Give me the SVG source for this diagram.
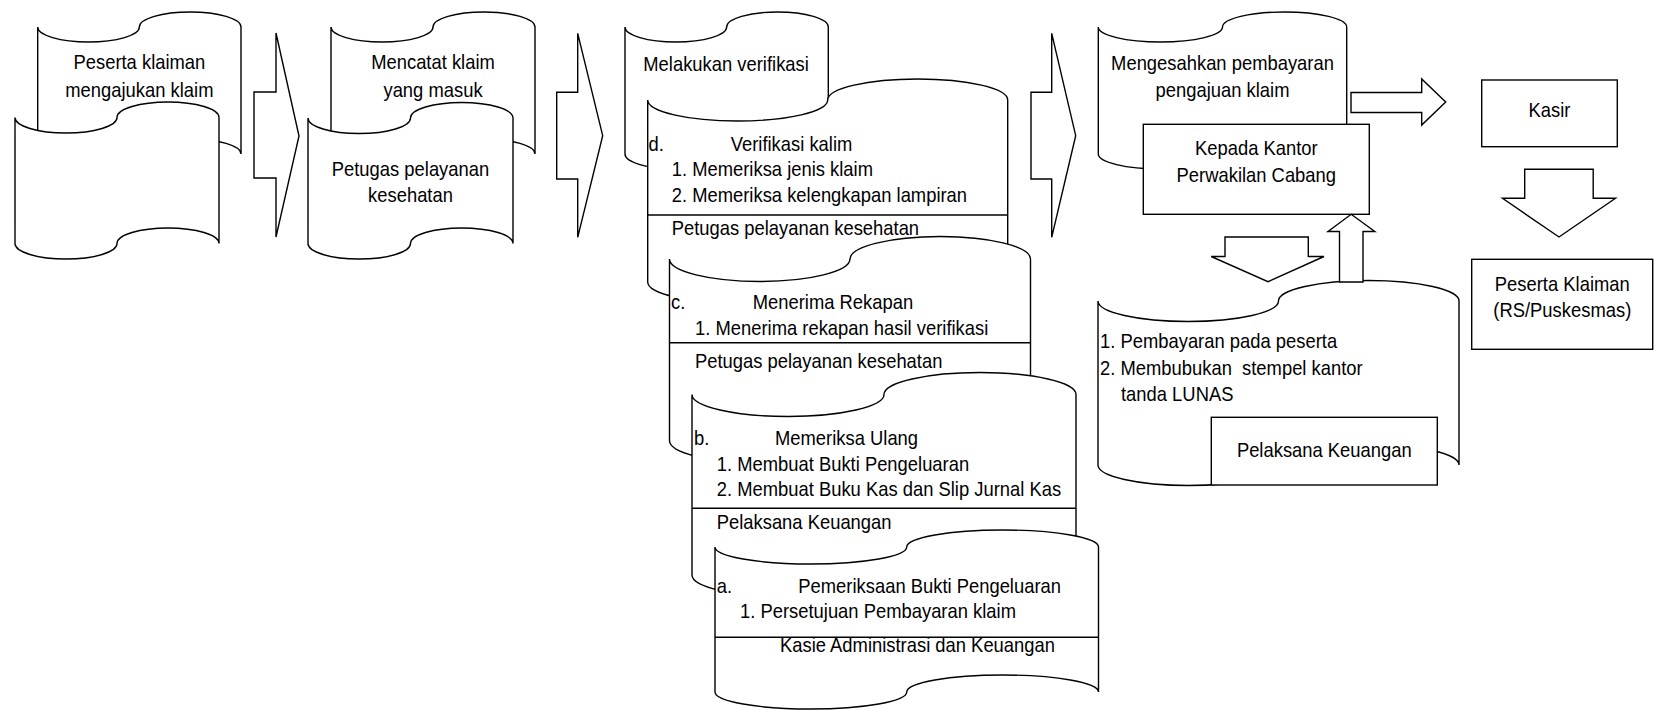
<svg xmlns="http://www.w3.org/2000/svg" width="1654" height="710" viewBox="0 0 1654 710">
<style>
.s{fill:#fff;stroke:#000;stroke-width:1.4;stroke-linejoin:miter}
.l{stroke:#000;stroke-width:1.4;fill:none}
.t{font-family:"Liberation Sans",Arial,Helvetica,sans-serif;font-size:20px;fill:#000}
.m{text-anchor:middle}
</style>
<rect width="1654" height="710" fill="#fff"/>
<g id="n-peserta-ajukan">
<path class="s" d="M37.7,27 A50.8,15 0 0 0 139.35,27 A50.8,15 0 0 1 241,27 L241,154 A50.8,15 0 0 0 139.35,154 A50.8,15 0 0 1 37.7,154 Z"/>
<text class="t m" transform="translate(139.4 69.3) scale(0.92 1)">Peserta klaiman</text>
<text class="t m" transform="translate(139.4 96.7) scale(0.92 1)">mengajukan klaim</text>
</g>
<g id="n-blank">
<path class="s" d="M15,117.5 A51,15.5 0 0 0 117,117.5 A51,15.5 0 0 1 219,117.5 L219,243.5 A51,15.5 0 0 0 117,243.5 A51,15.5 0 0 1 15,243.5 Z"/>
</g>
<g id="n-mencatat">
<path class="s" d="M331,27 A51,15 0 0 0 433,27 A51,15 0 0 1 535,27 L535,154 A51,15 0 0 0 433,154 A51,15 0 0 1 331,154 Z"/>
<text class="t m" transform="translate(433 69.3) scale(0.92 1)">Mencatat klaim</text>
<text class="t m" transform="translate(433 96.7) scale(0.92 1)">yang masuk</text>
</g>
<g id="n-petugas">
<path class="s" d="M308,118 A51.25,15.5 0 0 0 410.5,118 A51.25,15.5 0 0 1 513,118 L513,243.5 A51.25,15.5 0 0 0 410.5,243.5 A51.25,15.5 0 0 1 308,243.5 Z"/>
<text class="t m" transform="translate(410.5 175.7) scale(0.92 1)">Petugas pelayanan</text>
<text class="t m" transform="translate(410.5 201.7) scale(0.92 1)">kesehatan</text>
</g>
<g id="n-melakukan">
<path class="s" d="M625,27 A50.8,15 0 0 0 726.65,27 A50.8,15 0 0 1 828.3,27 L828.3,154 A50.8,15 0 0 0 726.65,154 A50.8,15 0 0 1 625,154 Z"/>
<text class="t" transform="translate(643.3 70.7) scale(0.92 1)">Melakukan verifikasi</text>
</g>
<g id="n-d">
<path class="s" d="M647.7,100 A90,21 0 0 0 827.7,100 A90,21 0 0 1 1007.7,100 L1007.7,282 A90,21 0 0 0 827.7,282 A90,21 0 0 1 647.7,282 Z"/>
<path class="l" d="M647.7,215 H1007.7"/>
<text class="t" transform="translate(648.5 150.7) scale(0.92 1)">d.</text>
<text class="t" transform="translate(730.7 150.7) scale(0.92 1)">Verifikasi kalim</text>
<text class="t" transform="translate(671.7 176) scale(0.92 1)">1. Memeriksa jenis klaim</text>
<text class="t" transform="translate(671.7 201.7) scale(0.92 1)">2. Memeriksa kelengkapan lampiran</text>
<text class="t" transform="translate(671.7 235) scale(0.92 1)">Petugas pelayanan kesehatan</text>
</g>
<g id="n-c">
<path class="s" d="M669.5,259 A90.25,22.5 0 0 0 850,259 A90.25,22.5 0 0 1 1030.5,259 L1030.5,440.5 A90.25,22.5 0 0 0 850,440.5 A90.25,22.5 0 0 1 669.5,440.5 Z"/>
<path class="l" d="M669.5,342.7 H1030.5"/>
<text class="t" transform="translate(671 309) scale(0.92 1)">c.</text>
<text class="t" transform="translate(752.7 309) scale(0.92 1)">Menerima Rekapan</text>
<text class="t" transform="translate(695 335) scale(0.92 1)">1. Menerima rekapan hasil verifikasi</text>
<text class="t" transform="translate(695 368.3) scale(0.92 1)">Petugas pelayanan kesehatan</text>
</g>
<g id="n-b">
<path class="s" d="M692,394.5 A96,22 0 0 0 884,394.5 A96,22 0 0 1 1076,394.5 L1076,575 A96,22 0 0 0 884,575 A96,22 0 0 1 692,575 Z"/>
<path class="l" d="M692,508.3 H1076"/>
<text class="t" transform="translate(694 445) scale(0.92 1)">b.</text>
<text class="t" transform="translate(775 445) scale(0.92 1)">Memeriksa Ulang</text>
<text class="t" transform="translate(716.7 470.7) scale(0.92 1)">1. Membuat Bukti Pengeluaran</text>
<text class="t" transform="translate(716.7 496) scale(0.92 1)">2. Membuat Buku Kas dan Slip Jurnal Kas</text>
<text class="t" transform="translate(716.7 529.3) scale(0.92 1)">Pelaksana Keuangan</text>
</g>
<g id="n-a">
<path class="s" d="M715,547 A95.875,17 0 0 0 906.75,547 A95.875,17 0 0 1 1098.5,547 L1098.5,692 A95.875,17 0 0 0 906.75,692 A95.875,17 0 0 1 715,692 Z"/>
<path class="l" d="M715,637.3 H1098.5"/>
<text class="t" transform="translate(716.7 593.3) scale(0.92 1)">a.</text>
<text class="t" transform="translate(798.3 593.3) scale(0.92 1)">Pemeriksaan Bukti Pengeluaran</text>
<text class="t" transform="translate(740 618.3) scale(0.92 1)">1. Persetujuan Pembayaran klaim</text>
<text class="t" transform="translate(780 651.7) scale(0.92 1)">Kasie Administrasi dan Keuangan</text>
</g>
<g id="n-mengesahkan">
<path class="s" d="M1098.3,27 A62.1,15 0 0 0 1222.5,27 A62.1,15 0 0 1 1346.7,27 L1346.7,154 A62.1,15 0 0 0 1222.5,154 A62.1,15 0 0 1 1098.3,154 Z"/>
<text class="t m" transform="translate(1222.5 70) scale(0.92 1)">Mengesahkan pembayaran</text>
<text class="t m" transform="translate(1222.5 96.7) scale(0.92 1)">pengajuan klaim</text>
</g>
<g id="n-kepada">
<rect class="s" x="1143.3" y="124.3" width="226" height="90"/>
<text class="t m" transform="translate(1256.3 155) scale(0.92 1)">Kepada Kantor</text>
<text class="t m" transform="translate(1256.3 181.7) scale(0.92 1)">Perwakilan Cabang</text>
</g>
<g id="n-pembayaran">
<path class="s" d="M1098,301 A90.25,20.5 0 0 0 1278.5,301 A90.25,20.5 0 0 1 1459,301 L1459,465 A90.25,20.5 0 0 0 1278.5,465 A90.25,20.5 0 0 1 1098,465 Z"/>
<text class="t" transform="translate(1100 348.3) scale(0.92 1)">1. Pembayaran pada peserta</text>
<text class="t" xml:space="preserve" transform="translate(1100 375) scale(0.92 1)">2. Membubukan  stempel kantor</text>
<text class="t" transform="translate(1121 400.5) scale(0.92 1)">tanda LUNAS</text>
</g>
<g id="n-pelaksana">
<rect class="s" x="1211.3" y="417.3" width="226" height="67.7"/>
<text class="t m" transform="translate(1324.3 456.7) scale(0.92 1)">Pelaksana Keuangan</text>
</g>
<g id="n-kasir">
<rect class="s" x="1481.7" y="80" width="135.6" height="66.7"/>
<text class="t m" transform="translate(1549.5 117.3) scale(0.92 1)">Kasir</text>
</g>
<g id="n-peserta-klaiman">
<rect class="s" x="1471.7" y="259.3" width="181" height="90"/>
<text class="t m" transform="translate(1562.3 290.7) scale(0.92 1)">Peserta Klaiman</text>
<text class="t m" transform="translate(1562.3 317.3) scale(0.92 1)">(RS/Puskesmas)</text>
</g>
<g id="connectors">
<path class="s" d="M254,92 L276,92 L276,33 L299,136 L276,237 L276,178 L254,178 Z"/>
<path class="s" d="M556.7,92.3 L577.7,92.3 L577.7,33.3 L602.7,135.7 L577.7,237.3 L577.7,179 L556.7,179 Z"/>
<path class="s" d="M1031,92.3 L1051.7,92.3 L1051.7,33.3 L1075.7,135.7 L1051.7,237.3 L1051.7,179 L1031,179 Z"/>
<path class="s" d="M1351,92.5 L1421.7,92.5 L1421.7,79 L1445.7,102 L1421.7,125 L1421.7,112.5 L1351,112.5 Z"/>
<path class="s" d="M1524.7,169.3 L1593.2,169.3 L1593.2,198.3 L1615.5,198.3 L1559,237 L1502.5,198.3 L1524.7,198.3 Z"/>
<path class="s" d="M1225,237 L1308.3,237 L1308.3,256.5 L1324,256.5 L1268,281.7 L1211.2,256.5 L1225,256.5 Z"/>
<path class="s" d="M1339.5,282 L1339.5,231.5 L1328,231.5 L1351.2,214.3 L1374.8,231.5 L1363,231.5 L1363,282 Z"/>
</g>
</svg>
